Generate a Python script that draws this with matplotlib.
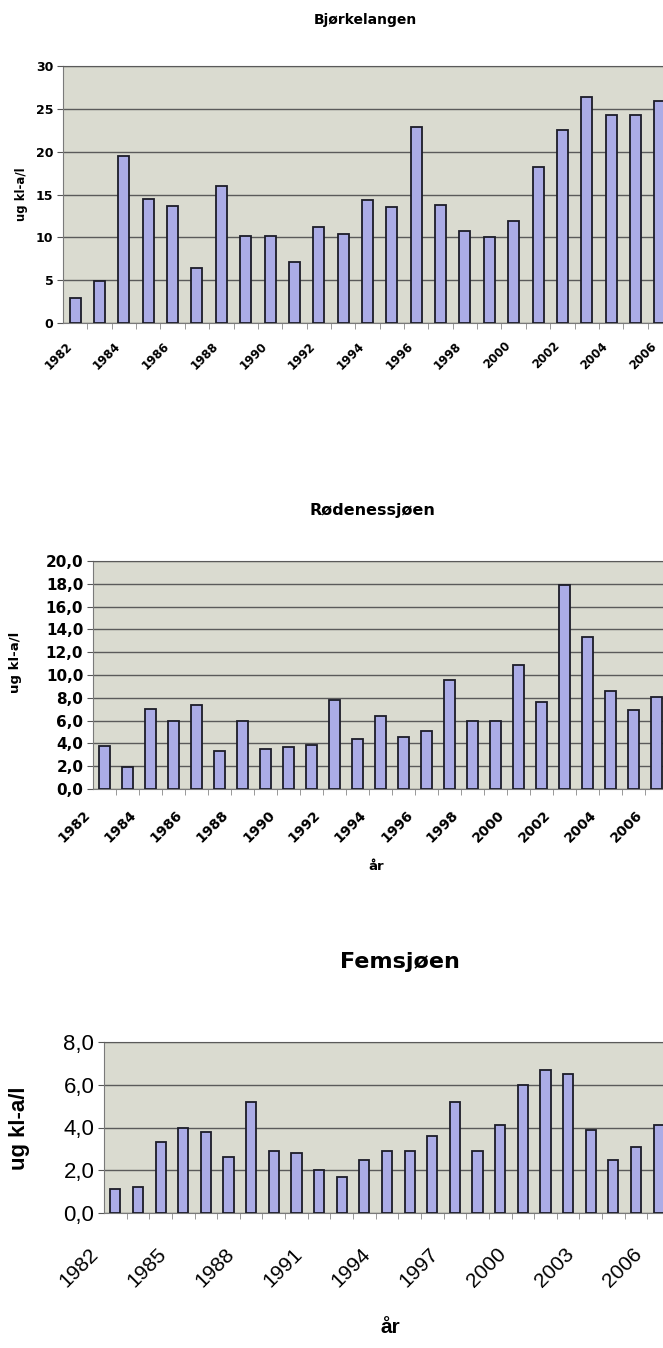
import matplotlib.pyplot as plt
from matplotlib import transforms
from matplotlib.ticker import FuncFormatter, MultipleLocator

years = list(range(1982, 2007))

# klorofyll-a, ug/l, arlige middelverdier
bjorkelangen = [2.9, 4.9, 19.5, 14.5, 13.6, 6.4, 16.0, 10.1, 10.1, 7.1,
                11.2, 10.4, 14.4, 13.5, 22.9, 13.8, 10.7, 10.0, 11.9, 18.2,
                22.5, 26.4, 24.3, 24.3, 25.9]
rodenessjoen = [3.8, 1.9, 7.0, 6.0, 7.4, 3.3, 6.0, 3.5, 3.7, 3.9,
                7.8, 4.4, 6.4, 4.6, 5.1, 9.6, 6.0, 6.0, 10.9, 7.6,
                17.9, 13.3, 8.6, 6.9, 8.1]
femsjoen = [1.1, 1.2, 3.3, 4.0, 3.8, 2.6, 5.2, 2.9, 2.8, 2.0,
            1.7, 2.5, 2.9, 2.9, 3.6, 5.2, 2.9, 4.1, 6.0, 6.7,
            6.5, 3.9, 2.5, 3.1, 4.1]

W, H = 663, 1348
PLOT_BG = '#dadbd0'
BAR_FC = '#abace6'
BAR_EC = '#1c1c28'
GRID = '#5a5a5a'
BOLD = ['DejaVu Sans']
ARIAL = ['Liberation Sans', 'DejaVu Sans']

fig = plt.figure(figsize=(W / 100, H / 100), dpi=100)


def add_ax(left, top, right, bottom):
    # pixel box -> figure fraction (right edge may run past the figure)
    return fig.add_axes([left / W, 1 - bottom / H, (right - left) / W, (bottom - top) / H])


def comma(v, pos):
    return f'{v:.1f}'.replace('.', ',')


def bars(ax, values, ymax, ystep):
    ax.set_facecolor(PLOT_BG)
    ax.bar(years, values, width=0.45, color=BAR_FC, edgecolor=BAR_EC, linewidth=1.3, zorder=3)
    ax.set_xlim(1981.5, 2006.5)
    ax.set_ylim(0, ymax)
    ax.yaxis.set_major_locator(MultipleLocator(ystep))
    ax.grid(axis='y', color=GRID, linewidth=1.0, zorder=1)
    ax.spines['right'].set_visible(False)
    ax.spines['top'].set_color(GRID)
    ax.spines['left'].set_color('#7a7a7a')
    ax.spines['bottom'].set_color('#7a7a7a')
    ax.tick_params(axis='y', direction='out', length=4, color='#555555', pad=3)
    ax.set_xticks([y + 0.5 for y in years[:-1]], minor=True)
    ax.tick_params(axis='x', which='minor', direction='out', length=4, color='#888888')
    ax.tick_params(axis='x', which='major', length=0, pad=0)


def shift_labels(ax, dx, dy):
    off = transforms.ScaledTranslation(dx / 100, -dy / 100, fig.dpi_scale_trans)
    for lab in ax.get_xticklabels():
        lab.set_transform(lab.get_transform() + off)


# Bjørkelangen
ax1 = add_ax(63, 66, 672, 323)
bars(ax1, bjorkelangen, 30, 5)
ticks1 = years[::2]
ax1.set_xticks(ticks1)
ax1.set_xticklabels([str(y) for y in ticks1], rotation=45, ha='right', va='center',
                    rotation_mode='anchor', fontsize=8.5, fontweight='bold', family=BOLD)
shift_labels(ax1, -5, 21)
for lab in ax1.get_yticklabels():
    lab.set_fontsize(9)
    lab.set_fontweight('bold')
    lab.set_family(BOLD)
ax1.set_ylabel('ug kl-a/l', fontsize=8.5, fontweight='bold', family=BOLD)
ax1.yaxis.set_label_coords((28 - 63) / 609, (323 - 194) / 257)
fig.text(365 / W, 1 - 20 / H, 'Bjørkelangen', ha='center', va='center',
         fontsize=10, fontweight='bold', family=BOLD)

# Rødenessjøen
ax2 = add_ax(93, 561, 668, 789)
bars(ax2, rodenessjoen, 20, 2)
ax2.yaxis.set_major_formatter(FuncFormatter(comma))
ticks2 = years[::2]
ax2.set_xticks(ticks2)
ax2.set_xticklabels([str(y) for y in ticks2], rotation=45, ha='right', va='center',
                    rotation_mode='anchor', fontsize=10, fontweight='bold', family=BOLD)
shift_labels(ax2, -16, 24)
for lab in ax2.get_yticklabels():
    lab.set_fontsize(11)
    lab.set_fontweight('bold')
    lab.set_family(BOLD)
ax2.set_ylabel('ug kl-a/l', fontsize=9.5, fontweight='bold', family=BOLD)
ax2.yaxis.set_label_coords((22 - 93) / 575, (789 - 662) / 228)
ax2.set_xlabel('år', fontsize=9.5, fontweight='bold', family=BOLD)
ax2.xaxis.set_label_coords((376 - 93) / 575, (789 - 860) / 228)
fig.text(372 / W, 1 - 511 / H, 'Rødenessjøen', ha='center', va='center',
         fontsize=11.5, fontweight='bold', family=BOLD)

# Femsjøen
ax3 = add_ax(104, 1042, 670, 1213)
bars(ax3, femsjoen, 8, 2)
ax3.yaxis.set_major_formatter(FuncFormatter(comma))
ticks3 = years[::3]
ax3.set_xticks(ticks3)
ax3.set_xticklabels([str(y) for y in ticks3], rotation=45, ha='right', va='center',
                    rotation_mode='anchor', fontsize=15, family=ARIAL)
shift_labels(ax3, -20, 38)
for lab in ax3.get_yticklabels():
    lab.set_fontsize(16)
    lab.set_family(ARIAL)
ax3.set_ylabel('ug kl-a/l', fontsize=16, fontweight='bold', family=ARIAL)
ax3.yaxis.set_label_coords((30 - 104) / 566, (1213 - 1128) / 171)
ax3.set_xlabel('år', fontsize=15, fontweight='bold', family=ARIAL)
ax3.xaxis.set_label_coords((390 - 104) / 566, (1213 - 1318) / 171)
fig.text(400 / W, 1 - 962 / H, 'Femsjøen', ha='center', va='center',
         fontsize=16, fontweight='bold', family=BOLD)

fig.savefig('out.png', dpi=100)
